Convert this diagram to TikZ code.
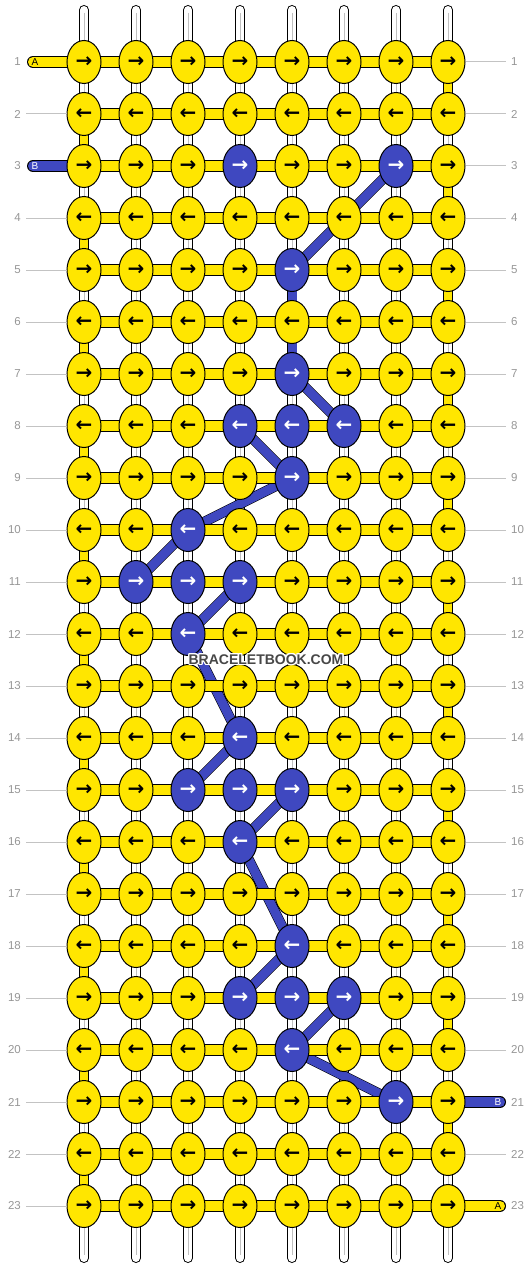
\documentclass[tikz,border=0pt]{standalone}
\usepackage{fontspec}
\usepackage{contour}
\usetikzlibrary{positioning}
\usetikzlibrary{shapes.geometric}
\newfontfamily\labelfont{Liberation Sans}
\newfontfamily\arrowfont{DejaVu Sans}
\definecolor{bandyellow}{RGB}{255,230,0}
\definecolor{bandblue}{RGB}{63,72,192}
\definecolor{rowgray}{RGB}{150,150,150}
\definecolor{rulegray}{RGB}{195,195,195}
\contourlength{1.2pt}
\pgfdeclarelayer{tubes}
\pgfdeclarelayer{links}
\pgfsetlayers{tubes,links,main}
\tikzset{
        knot/.style={ellipse,draw=black,line width=1pt,fill=bandyellow,minimum width=34pt,minimum height=43pt,inner sep=0pt,text=black,font=\arrowfont\bfseries\fontsize{20}{20}\selectfont},
        blueknot/.style={fill=bandblue,text=white},
        warp/.style={draw=black,line width=1pt,double=white,double distance=8pt,line cap=round},
        warpmid/.style={draw=black!25,line width=1pt},
        weft/.style={draw=black,line width=1pt,double=bandyellow,double distance=10pt},
        turn/.style={draw=black,line width=1pt,double=bandyellow,double distance=8pt},
        trail/.style={draw=black,line width=0.6pt,double=bandblue,double distance=9pt},
        tailend/.style={draw=black,line width=1pt,double distance=10pt,line cap=round},
        rowno/.style={font=\labelfont\fontsize{11.5}{11.5}\selectfont,text=rowgray,inner sep=0pt},
        rowrule/.style={draw=rulegray,line width=1pt},
        tagtext/.style={font=\labelfont\fontsize{10}{10}\selectfont,inner sep=0pt},
        }
% knots tied with the blue strand
\tikzset{
        knot 3-4/.style=blueknot, knot 3-7/.style=blueknot,
        knot 5-5/.style=blueknot, knot 7-5/.style=blueknot,
        knot 8-4/.style=blueknot, knot 8-5/.style=blueknot, knot 8-6/.style=blueknot,
        knot 9-5/.style=blueknot, knot 10-3/.style=blueknot,
        knot 11-2/.style=blueknot, knot 11-3/.style=blueknot, knot 11-4/.style=blueknot,
        knot 12-3/.style=blueknot, knot 14-4/.style=blueknot,
        knot 15-3/.style=blueknot, knot 15-4/.style=blueknot, knot 15-5/.style=blueknot,
        knot 16-4/.style=blueknot, knot 18-5/.style=blueknot,
        knot 19-4/.style=blueknot, knot 19-5/.style=blueknot, knot 19-6/.style=blueknot,
        knot 20-5/.style=blueknot, knot 21-7/.style=blueknot,
        }

\begin{document}
\begin{tikzpicture}[x=1pt,y=-1pt]

		\useasboundingbox (0,0) rectangle (532,1268);

		% knots......................
		\foreach \r in {1,...,23}
			\foreach \c in {1,...,8} {
				\ifodd\r \def\dir{→}\else \def\dir{←}\fi
				\node [knot, knot \r-\c/.try] (k-\r-\c) at ({84+52*(\c-1)},{62+52*(\r-1)}) {\dir};
			}

		% row numbers.....................
		\foreach \r in {1,...,23} {
			\node [rowno, anchor=east] (rowL-\r) at (21,{62+52*(\r-1)}) {\r};
			\node [rowno, anchor=west] (rowR-\r) at (511,{62+52*(\r-1)}) {\r};
		}
		\foreach \r in {2,4,5,...,23}
			\draw [rowrule] ([xshift=5pt]rowL-\r.east) to (k-\r-1.west);
		\foreach \r in {1,2,...,20,22}
			\draw [rowrule] (k-\r-8.east) to ([xshift=-5pt]rowR-\r.west);

		% warp strands...................
		\begin{pgfonlayer}{tubes}
			\foreach \c in {1,...,8} {
				\coordinate (top-\c) at ({84+52*(\c-1)},10);
				\coordinate (bot-\c) at ({84+52*(\c-1)},1258);
				\draw [warp] (top-\c) to (bot-\c);
				\draw [warpmid] ([yshift=-3pt]top-\c) to ([yshift=3pt]bot-\c);
			}
		\end{pgfonlayer}

		\begin{pgfonlayer}{links}
			% turns at the edges.............
			\foreach \r [evaluate=\r as \n using int(\r+1)] in {2,4,...,22}
				\draw [turn] (k-\r-1.center) to (k-\n-1.center);
			\foreach \r [evaluate=\r as \n using int(\r+1)] in {1,3,...,21}
				\draw [turn] (k-\r-8.center) to (k-\n-8.center);

			% blue strand path...............
			\foreach \ra/\ca/\rb/\cb in {3/7/5/5, 5/5/7/5, 7/5/8/6, 8/4/9/5, 9/5/10/3, 10/3/11/2,
					11/4/12/3, 12/3/14/4, 14/4/15/3, 15/5/16/4, 16/4/18/5, 18/5/19/4, 19/6/20/5, 20/5/21/7}
				\draw [trail] (k-\ra-\ca.center) to (k-\rb-\cb.center);

			% weft rows......................
			\foreach \r in {1,...,23}
				\draw [weft] (k-\r-1.center) to (k-\r-8.center);

			% loose ends.....................
			\coordinate (endA-in) at (33,62);
			\coordinate (endB-in) at (33,166);
			\coordinate (endB-out) at (500,1102);
			\coordinate (endA-out) at (500,1206);
			\draw [tailend, double=bandyellow] (endA-in) to (k-1-1.center);
			\draw [tailend, double=bandblue] (endB-in) to (k-3-1.center);
			\draw [tailend, double=bandblue] (k-21-8.center) to (endB-out);
			\draw [tailend, double=bandyellow] (k-23-8.center) to (endA-out);
		\end{pgfonlayer}

		% strand tags.....................
		\node [tagtext, text=black] (tagA-in) at (35,62) {A};
		\node [tagtext, text=white] (tagB-in) at (35,166) {B};
		\node [tagtext, text=white] (tagB-out) at (498,1102) {B};
		\node [tagtext, text=black] (tagA-out) at (498,1206) {A};

		% site stamp......................
		\node [font=\labelfont\bfseries\fontsize{14}{14}\selectfont, text=black!72] (stamp) at (266,660) {\contour{white}{BRACELETBOOK.COM}};

	\end{tikzpicture}
\end{document}
